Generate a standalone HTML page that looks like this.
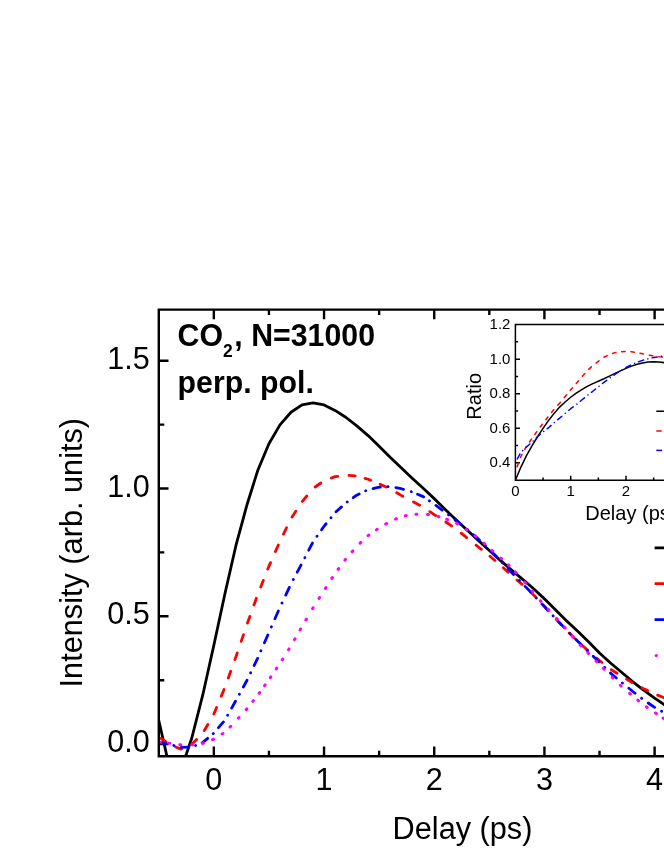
<!DOCTYPE html>
<html><head><meta charset="utf-8"><title>chart</title>
<style>html,body{margin:0;padding:0;background:#fff;}body{width:664px;height:860px;overflow:hidden;}svg{display:block;will-change:transform;}text{font-family:"Liberation Sans",sans-serif;fill:#000;}</style>
</head><body>
<svg width="664" height="860" viewBox="0 0 664 860">
<rect x="0" y="0" width="664" height="860" fill="#fff"/>
<defs><clipPath id="cm"><rect x="159.80" y="309.60" width="600" height="446.65"/></clipPath>
<clipPath id="ci"><rect x="515.40" y="324.60" width="300" height="155.70"/></clipPath></defs>
<path d="M213.85,309.60 v9.70 M213.85,756.25 v-9.70 M268.94,309.60 v5.50 M268.94,756.25 v-5.50 M324.04,309.60 v9.70 M324.04,756.25 v-9.70 M379.13,309.60 v5.50 M379.13,756.25 v-5.50 M434.23,309.60 v9.70 M434.23,756.25 v-9.70 M489.33,309.60 v5.50 M489.33,756.25 v-5.50 M544.42,309.60 v9.70 M544.42,756.25 v-9.70 M599.52,309.60 v5.50 M599.52,756.25 v-5.50 M654.61,309.60 v9.70 M654.61,756.25 v-9.70 M158.80,744.10 h9.70 M158.80,680.20 h5.50 M158.80,616.30 h9.70 M158.80,552.40 h5.50 M158.80,488.50 h9.70 M158.80,424.60 h5.50 M158.80,360.70 h9.70" stroke="#000" stroke-width="2.40" fill="none"/>
<g clip-path="url(#cm)" fill="none" stroke-width="2.80" stroke-linecap="round" stroke-linejoin="round">
<path d="M158.75,720.33 L169.77,768.61 L180.79,770.59 L191.81,737.99 L202.83,694.70 L213.85,645.30 L224.87,594.00 L235.89,545.71 L246.91,505.01 L257.93,469.93 L268.94,443.71 L279.96,424.85 L290.98,412.22 L302.00,404.90 L313.02,402.80 L324.04,404.91 L335.06,410.38 L346.08,417.48 L357.10,426.10 L368.12,435.61 L379.13,446.23 L390.15,457.25 L401.17,467.77 L412.19,478.19 L423.21,488.34 L434.23,498.64 L445.25,509.38 L456.27,520.02 L467.29,530.26 L478.31,540.39 L489.33,550.51 L500.34,560.39 L511.36,569.89 L522.38,579.07 L533.40,588.47 L544.42,598.86 L555.44,609.85 L566.46,620.64 L577.48,631.08 L588.50,641.69 L599.51,652.91 L610.53,663.03 L621.55,672.27 L632.57,681.52 L643.59,690.08 L654.61,698.10 L665.63,705.69 L676.65,712.67 L687.67,718.82" stroke="#000" stroke-linecap="butt"/>
<path d="M160.67,738.25 L166.04,741.93 M175.78,747.02 L180.79,749.13 L181.66,748.75 M191.84,744.29 L196.62,739.46 M204.33,730.56 L207.84,724.46 M213.84,714.01 L213.85,714.00 L216.57,707.45 M221.28,696.11 L224.01,689.55 M228.29,677.98 L230.71,671.25 M234.90,659.64 L235.89,656.89 L237.25,652.92 M241.20,641.35 L243.49,634.65 M247.47,623.09 L249.86,616.44 M253.98,604.96 L256.37,598.30 M260.72,586.94 L263.31,580.39 M267.79,569.10 L268.94,566.18 L270.53,562.61 M275.45,551.48 L278.30,545.03 M283.47,534.07 L286.54,527.76 M292.04,517.03 L295.80,511.28 M302.34,501.38 L306.80,496.00 M315.16,487.00 L320.82,483.02 M331.31,478.06 L335.06,476.68 L337.71,476.30 M349.01,475.31 L355.22,475.80 M365.06,478.36 L368.12,479.28 L370.66,480.33 M380.18,484.33 L386.06,487.06 M396.72,492.79 L401.17,495.38 L402.83,496.27 M413.51,501.98 L419.65,505.26 M429.82,511.66 L434.23,514.65 L435.65,515.55 M445.81,522.00 L451.56,525.95 M461.20,533.15 L466.66,537.54 M476.07,545.17 L478.31,546.98 L481.32,549.35 M490.01,556.23 L494.92,560.44 M503.31,567.82 L508.20,572.31 M516.97,579.96 L522.11,584.31 M530.73,592.23 L533.40,594.70 L535.58,597.01 M543.69,605.63 L544.42,606.41 L548.33,610.71 M556.32,619.48 L561.01,624.49 M569.19,633.02 L574.04,637.82 M582.59,645.83 L587.67,650.41 M596.72,658.12 L599.51,660.50 L602.02,662.48 M611.35,669.71 L616.96,673.25 M626.53,679.16 L632.10,682.54 M641.92,687.84 L643.59,688.73 L647.69,690.62 M657.69,695.11 L663.53,697.56 M673.73,701.37 L676.65,702.42 L679.71,703.28" stroke="#ff0000"/>
<path d="M159.50,742.35 L166.60,743.80 M173.85,745.52 L173.95,745.55 M181.18,747.33 L188.38,747.11 M195.55,745.45 L195.64,745.41 M202.13,742.71 L202.83,742.42 L207.67,738.33 M213.26,733.60 L213.34,733.54 M218.47,727.70 L223.40,721.94 M227.66,715.24 L227.71,715.14 M231.64,708.12 L235.47,701.29 M239.36,694.23 L239.41,694.14 M243.29,687.08 L246.91,680.51 L247.06,680.20 M250.58,672.88 L250.63,672.78 M254.16,665.47 L257.59,658.35 M260.88,650.88 L260.92,650.78 M264.43,642.75 L267.83,634.94 M271.35,626.92 L271.40,626.81 M274.92,618.80 L278.34,611.00 M281.97,603.05 L282.02,602.95 M285.74,595.06 L289.36,587.38 M293.27,579.62 L293.33,579.52 M297.22,572.20 L301.01,565.07 M304.84,557.71 L304.89,557.61 M308.71,550.23 L312.42,543.04 M316.97,536.29 L317.03,536.20 M321.55,529.81 L324.04,526.28 L326.09,523.75 M330.96,517.74 L331.02,517.65 M336.02,511.81 L341.47,506.90 M347.16,502.00 L347.24,501.94 M353.21,497.68 L357.10,494.90 L359.18,493.92 M365.66,490.88 L365.75,490.83 M373.07,488.56 L379.13,487.15 L380.35,487.07 M387.95,486.61 L388.05,486.60 M395.93,487.65 L401.17,488.72 L403.52,489.41 M411.25,491.70 L411.34,491.73 M417.60,494.27 L423.21,496.64 L423.63,496.92 M429.36,500.84 L429.44,500.90 M435.94,505.44 L442.15,510.06 M448.51,514.86 L448.60,514.93 M454.94,519.77 L456.27,520.79 L461.05,524.57 M467.32,529.54 L467.40,529.61 M473.51,534.83 L478.31,538.93 L479.42,539.98 M485.33,545.54 L485.41,545.61 M491.24,551.26 L496.80,556.93 M502.47,562.81 L502.55,562.89 M508.16,568.85 L511.36,572.25 L513.65,574.60 M519.35,580.45 L519.43,580.52 M525.12,586.37 L530.66,592.06 M536.32,597.97 L536.39,598.05 M542.01,604.00 L544.42,606.56 L547.45,609.82 M553.04,615.81 L553.12,615.89 M558.72,621.86 L564.19,627.64 M569.89,633.49 L569.97,633.56 M575.71,639.34 L577.48,641.11 L581.39,644.85 M587.26,650.45 L587.34,650.52 M593.18,656.17 L598.85,661.67 M604.66,667.36 L604.74,667.44 M610.43,673.02 L610.53,673.12 L616.31,677.95 M622.36,682.99 L622.44,683.06 M628.84,688.25 L632.57,691.28 L635.09,693.26 M641.56,698.33 L641.64,698.39 M648.20,703.00 L654.61,707.30 L654.66,707.33 M661.55,711.19 L661.65,711.24 M668.36,714.90 L674.94,718.36 M681.63,722.09 L681.72,722.14" stroke="#0000ff"/>
<path d="M159.40,742.26 L160.40,742.36 M168.70,743.19 L169.70,743.28 M179.80,744.70 L180.80,744.84 M191.91,744.83 L192.89,744.68 M202.53,743.36 L203.47,743.01 M212.53,739.63 L213.47,739.28 M222.08,734.00 L222.92,733.47 M230.05,726.94 L230.75,726.23 M238.36,718.23 L239.04,717.49 M246.16,709.63 L246.84,708.89 M252.79,701.42 L253.41,700.64 M259.11,693.33 L259.69,692.52 M264.61,685.72 L265.19,684.91 M270.32,677.69 L270.88,676.87 M276.22,668.99 L276.78,668.16 M282.23,659.84 L282.77,658.99 M288.53,649.79 L289.07,648.94 M294.55,639.60 L295.05,638.73 M300.05,629.91 L300.55,629.04 M305.84,620.00 L306.36,619.14 M312.54,608.71 L313.06,607.85 M319.03,598.39 L319.57,597.54 M325.33,588.46 L325.87,587.62 M331.83,578.41 L332.37,577.57 M338.10,569.31 L338.70,568.50 M344.90,560.14 L345.50,559.34 M352.07,551.70 L352.73,550.95 M360.14,543.10 L360.86,542.42 M368.09,535.64 L368.91,535.07 M376.39,529.86 L377.21,529.29 M385.67,524.02 L386.53,523.51 M395.54,519.06 L396.46,518.67 M405.31,515.84 L406.29,515.64 M415.90,514.24 L416.90,514.19 M427.50,514.43 L428.50,514.57 M438.02,516.47 L438.98,516.75 M446.74,519.22 L447.66,519.60 M456.48,523.27 L457.32,523.82 M466.08,529.52 L466.92,530.06 M475.09,535.89 L475.91,536.48 M483.93,543.21 L484.67,543.87 M492.02,550.39 L492.78,551.05 M500.83,558.12 L501.57,558.78 M508.33,564.77 L509.07,565.44 M515.56,571.96 L516.24,572.69 M524.78,582.21 L525.42,582.98 M531.98,591.04 L532.62,591.81 M540.37,600.65 L541.03,601.40 M548.26,609.33 L548.94,610.06 M556.67,618.39 L557.33,619.14 M564.47,627.13 L565.13,627.87 M572.38,636.34 L573.02,637.10 M580.15,645.03 L580.85,645.73 M587.85,652.73 L588.55,653.44 M596.05,661.04 L596.75,661.75 M603.44,668.42 L604.16,669.12 M612.25,677.14 L612.95,677.85 M620.35,685.30 L621.05,686.01 M629.62,693.36 L630.38,694.01 M637.81,700.19 L638.59,700.83 M646.39,706.86 L647.21,707.42 M655.48,713.03 L656.32,713.59 M663.08,718.08 L663.92,718.63" stroke="#ff00ff" stroke-width="3.0"/>
</g>
<path d="M700,309.60 H158.80 V756.25 H700" stroke="#000" stroke-width="2.40" fill="none"/>
<text transform="translate(149.80,752.20) scale(1,1.030)" font-size="30.60" text-anchor="end">0.0</text>
<text transform="translate(149.80,624.40) scale(1,1.030)" font-size="30.60" text-anchor="end">0.5</text>
<text transform="translate(149.80,496.60) scale(1,1.030)" font-size="30.60" text-anchor="end">1.0</text>
<text transform="translate(149.80,368.80) scale(1,1.030)" font-size="30.60" text-anchor="end">1.5</text>
<text transform="translate(213.85,789.50) scale(1,1.030)" font-size="30.60" text-anchor="middle">0</text>
<text transform="translate(324.04,789.50) scale(1,1.030)" font-size="30.60" text-anchor="middle">1</text>
<text transform="translate(434.23,789.50) scale(1,1.030)" font-size="30.60" text-anchor="middle">2</text>
<text transform="translate(544.42,789.50) scale(1,1.030)" font-size="30.60" text-anchor="middle">3</text>
<text transform="translate(654.61,789.50) scale(1,1.030)" font-size="30.60" text-anchor="middle">4</text>
<text transform="translate(462.50,839.25) scale(1,1.030)" font-size="30.70" text-anchor="middle">Delay (ps)</text>
<text transform="translate(82.00,552.70) rotate(-90) scale(1,1.030)" font-size="30.70" text-anchor="middle">Intensity (arb. units)</text>
<text transform="translate(177.60,345.70) scale(1,1.030)" font-size="30.30" text-anchor="start" font-weight="bold">CO<tspan font-size="17.5" dy="10.8">2</tspan><tspan dy="-10.8" dx="1.6">, N=31000</tspan></text>
<text transform="translate(177.60,392.80) scale(1,1.030)" font-size="30.30" text-anchor="start" font-weight="bold">perp. pol.</text>
<g fill="none" stroke-width="2.80" stroke-linecap="butt">
<path d="M654.6,547.8 H700" stroke="#000"/>
<path d="M654.6,583.6 H700" stroke="#f00"/>
<path d="M654.6,619.7 H700" stroke="#00f"/>
</g>
<circle cx="656.3" cy="655.6" r="1.65" fill="#f0f"/>
<path d="M515.40,341.87 h2.70 M515.40,359.14 h4.60 M515.40,376.41 h2.70 M515.40,393.68 h4.60 M515.40,410.95 h2.70 M515.40,428.22 h4.60 M515.40,445.49 h2.70 M515.40,462.76 h4.60 M543.05,480.30 v-2.70 M570.70,480.30 v-4.60 M598.35,480.30 v-2.70 M626.00,480.30 v-4.60 M653.65,480.30 v-2.70" stroke="#000" stroke-width="1.50" fill="none"/>
<g clip-path="url(#ci)" fill="none" stroke-width="1.50" stroke-linecap="round" stroke-linejoin="round">
<path d="M515.40,480.30 L520.93,467.05 L526.46,455.64 L531.99,445.88 L537.52,436.74 L543.05,428.40 L548.58,420.42 L554.11,413.41 L559.64,407.12 L565.17,402.02 L570.70,397.23 L576.23,393.10 L581.76,389.60 L587.29,386.42 L592.82,383.62 L598.35,381.19 L603.88,378.73 L609.41,376.05 L614.94,373.38 L620.47,370.83 L626.00,368.38 L631.53,366.14 L637.06,364.32 L642.59,362.92 L648.12,362.01 L653.65,361.69 L659.18,361.97 L664.71,362.72 L670.24,363.79 L675.77,365.03 L681.30,366.00" stroke="#000" stroke-linecap="butt"/>
<path d="M517.18,466.62 L518.43,463.19 M520.50,457.50 L520.93,456.30 L522.02,454.35 M524.75,449.48 L526.40,446.54 M529.55,441.97 L531.49,439.16 M534.80,434.45 L536.81,431.61 M540.25,427.01 L542.35,424.25 M545.84,419.71 L547.96,416.98 M551.52,412.50 L553.77,409.70 M557.88,405.11 L559.64,403.18 L560.35,402.33 M564.31,397.59 L565.17,396.56 L566.59,394.81 M570.22,390.35 L570.70,389.76 L572.49,387.73 M576.27,383.41 L578.55,380.75 M582.38,376.29 L584.71,373.63 M588.71,369.36 L591.35,366.89 M596.09,363.04 L598.35,361.33 L599.04,360.83 M603.97,357.23 L607.18,355.63 M612.56,353.44 L614.94,352.63 L615.92,352.47 M621.66,351.71 L625.13,351.56 M630.89,351.72 L631.53,351.75 L634.33,352.17 M640.00,353.20 L642.59,353.75 L643.46,353.94 M649.30,355.15 L652.83,355.83 M658.71,356.76 L659.18,356.83 L662.24,357.12 M668.03,357.55 L670.24,357.68 L671.52,357.73 M677.32,357.91 L680.82,357.99" stroke="#ff0000"/>
<path d="M517.36,458.88 L519.92,454.13 M522.64,450.64 L522.68,450.60 M525.90,447.54 L526.46,447.00 L529.88,444.02 M533.16,441.02 L533.20,440.99 M536.37,437.86 L537.52,436.72 L540.30,434.29 M543.68,431.42 L543.72,431.39 M547.15,428.78 L548.58,427.69 L551.07,425.43 M554.28,422.52 L554.32,422.49 M557.80,419.67 L559.64,418.17 L561.89,416.21 M565.28,413.26 L565.32,413.23 M568.85,410.26 L570.70,408.70 L573.20,406.89 M576.88,404.14 L576.92,404.11 M580.35,401.22 L581.76,400.03 L584.49,397.83 M587.98,395.02 L588.02,394.99 M591.47,392.29 L592.82,391.23 L595.56,389.02 M598.98,386.28 L599.02,386.25 M602.49,383.49 L603.88,382.39 L606.69,380.28 M610.25,377.65 L610.29,377.62 M613.92,375.09 L614.94,374.38 L618.32,372.19 M622.06,369.85 L622.10,369.83 M625.88,367.56 L626.00,367.49 L630.53,365.12 M634.53,363.34 L634.58,363.32 M638.65,361.73 L642.59,360.38 L643.61,360.08 M647.80,358.87 L647.85,358.85 M652.10,357.86 L653.65,357.50 L657.22,356.91 M661.53,356.34 L661.58,356.33 M665.91,355.92 L670.24,355.61 L671.10,355.56 M675.44,355.30 L675.49,355.30 M679.84,355.08 L681.30,355.00" stroke="#0000ff"/>
</g>
<path d="M700,324.60 H515.40 V480.30 H700" stroke="#000" stroke-width="1.50" fill="none"/>
<text transform="translate(510.40,329.05) scale(1,1.030)" font-size="15.00" text-anchor="end">1.2</text>
<text transform="translate(510.40,363.59) scale(1,1.030)" font-size="15.00" text-anchor="end">1.0</text>
<text transform="translate(510.40,398.13) scale(1,1.030)" font-size="15.00" text-anchor="end">0.8</text>
<text transform="translate(510.40,432.67) scale(1,1.030)" font-size="15.00" text-anchor="end">0.6</text>
<text transform="translate(510.40,467.21) scale(1,1.030)" font-size="15.00" text-anchor="end">0.4</text>
<text transform="translate(515.40,496.40) scale(1,1.030)" font-size="15.00" text-anchor="middle">0</text>
<text transform="translate(570.70,496.40) scale(1,1.030)" font-size="15.00" text-anchor="middle">1</text>
<text transform="translate(626.00,496.40) scale(1,1.030)" font-size="15.00" text-anchor="middle">2</text>
<text transform="translate(585.30,519.70) scale(1,1.030)" font-size="20.00" text-anchor="start">Delay (ps)</text>
<text transform="translate(481.40,396.30) rotate(-90) scale(1,1.030)" font-size="20.00" text-anchor="middle">Ratio</text>
<g fill="none" stroke-width="1.50">
<path d="M656.3,411.3 H700" stroke="#000"/>
<path d="M656.3,431 H661.7" stroke="#f00"/>
<path d="M656.3,450.4 H662.1" stroke="#00f"/>
</g>
</svg>
</body></html>
